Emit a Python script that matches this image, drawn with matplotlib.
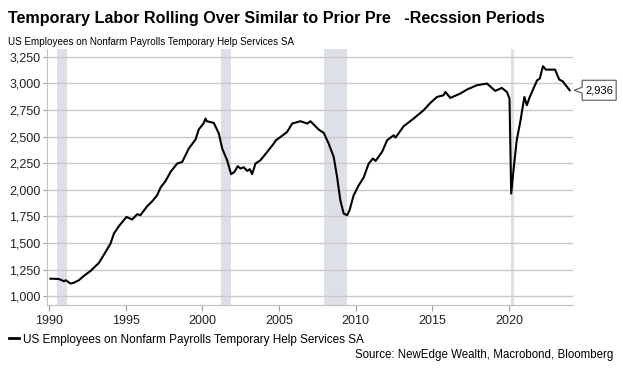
import matplotlib
matplotlib.use('Agg')
from matplotlib import pyplot as plt
from matplotlib import transforms
from matplotlib.patches import Polygon
from matplotlib.lines import Line2D

plt.rcParams['font.family'] = ['Liberation Sans', 'DejaVu Sans']

# values (decimal year, thousands)
years = [
    1990.1, 1990.65, 1990.98, 1991.1, 1991.41, 1991.6, 1991.95, 1992.28,
    1992.72, 1993.26, 1993.7, 1994.02, 1994.24, 1994.56, 1995.06, 1995.43,
    1995.76, 1995.97, 1996.41, 1996.74, 1997.06, 1997.28, 1997.6, 1997.93,
    1998.36, 1998.69, 1999.12, 1999.56, 1999.77, 2000.1, 2000.21, 2000.3,
    2000.75, 2001.08, 2001.3, 2001.62, 2001.88, 2002.1, 2002.31, 2002.5,
    2002.7, 2002.93, 2003.1, 2003.25, 2003.47, 2003.79, 2004.23, 2004.66,
    2004.8, 2005.1, 2005.53, 2005.86, 2006.4, 2006.84, 2007.05, 2007.59,
    2007.92, 2008.24, 2008.57, 2008.79, 2009.0, 2009.22, 2009.44, 2009.6,
    2009.87, 2010.2, 2010.52, 2010.85, 2011.13, 2011.3, 2011.72, 2012.05,
    2012.48, 2012.6, 2013.13, 2013.78, 2014.43, 2014.87, 2015.3, 2015.73,
    2015.85, 2016.17, 2016.82, 2017.26, 2017.9, 2018.56, 2019.1, 2019.53,
    2019.86, 2020.03, 2020.14, 2020.29, 2020.5, 2020.73, 2021.0, 2021.16,
    2021.35, 2021.83, 2022.0, 2022.21, 2022.4, 2022.9, 2023.0, 2023.27,
    2023.5, 2023.95,
]
temp_help = [
    1165, 1162, 1141, 1150, 1119, 1125, 1150, 1191,
    1238, 1313, 1417, 1495, 1589, 1658, 1745, 1721,
    1771, 1762, 1846, 1893, 1949, 2022, 2081, 2168,
    2247, 2262, 2388, 2473, 2567, 2629, 2670, 2645,
    2629, 2529, 2388, 2278, 2147, 2169, 2222, 2200,
    2213, 2178, 2194, 2147, 2247, 2278, 2356, 2435,
    2466, 2497, 2544, 2623, 2645, 2623, 2645, 2567,
    2535, 2435, 2309, 2121, 1902, 1777, 1761, 1808,
    1949, 2043, 2115, 2247, 2294, 2272, 2356, 2466,
    2513, 2491, 2598, 2670, 2748, 2817, 2873, 2889,
    2920, 2864, 2905, 2943, 2983, 2999, 2930, 2958,
    2920, 2858, 1965, 2184, 2466, 2638, 2873, 2795,
    2873, 3030, 3045, 3162, 3130, 3130, 3130, 3037,
    3020, 2936,
]
recessions = [(1990.55, 1991.2), (2001.2, 2001.85), (2007.95, 2009.45), (2020.15, 2020.32)]
yticks = [1000, 1250, 1500, 1750, 2000, 2250, 2500, 2750, 3000, 3250]
xticks = [1990, 1995, 2000, 2005, 2010, 2015, 2020]

title = 'Temporary Labor Rolling Over Similar to Prior Pre   -Recssion Periods'
series_name = 'US Employees on Nonfarm Payrolls Temporary Help Services SA'
source = 'Source: NewEdge Wealth, Macrobond, Bloomberg'

fig = plt.figure(figsize=(6.23, 3.76), dpi=100)
ax = fig.add_axes([0.076, 0.189, 0.844, 0.681])

for start, end in recessions:
    ax.axvspan(start, end, color='#dde0e7', lw=0, zorder=0)

ax.plot(years, temp_help, color='black', lw=1.5, zorder=3)

ax.set_xlim(1989.9, 2024.18)
ax.set_ylim(918, 3325)
ax.set_xticks(xticks)
ax.set_yticks(yticks)
ax.set_yticklabels([f'{v:,}' for v in yticks])
ax.grid(axis='y', color='#c9c9c9', lw=1)
ax.set_axisbelow(True)
for side in ['top', 'right']:
    ax.spines[side].set_visible(False)
for side in ['left', 'bottom']:
    ax.spines[side].set_color('#c0c0c0')
ax.tick_params(axis='both', colors='#a0a0a0', labelcolor='#222222', labelsize=9)
ax.tick_params(axis='y', length=3, pad=2)
ax.tick_params(axis='x', length=4, pad=3)

# last value callout
last = temp_help[-1]
base = transforms.blended_transform_factory(ax.transAxes, ax.transData)
trans = fig.dpi_scale_trans + transforms.ScaledTranslation(1.0, last, base)
shape = [(0.01, 0.0), (0.09, 0.03), (0.09, 0.10), (0.43, 0.10),
         (0.43, -0.10), (0.09, -0.10), (0.09, -0.03)]
ax.add_patch(Polygon(shape, closed=True, transform=trans, facecolor='white',
                     edgecolor='#555555', lw=0.8, clip_on=False))
ax.text(0.26, 0.0, f'{last:,}', transform=trans, ha='center', va='center',
        fontsize=8, color='black')

fig.text(0.013, 0.952, title, fontsize=11.6, fontweight='bold', va='center')
fig.text(0.013, 0.888, series_name, fontsize=7.1, va='center')

handle = Line2D([], [], color='black', lw=2)
fig.legend([handle], [series_name], loc='center left', bbox_to_anchor=(0.008, 0.097),
           frameon=False, fontsize=8.5, handlelength=0.9, handletextpad=0.3,
           borderaxespad=0, borderpad=0.3)
fig.text(0.984, 0.055, source, fontsize=8.3, ha='right', va='center')

fig.savefig('out.png', dpi=100)
